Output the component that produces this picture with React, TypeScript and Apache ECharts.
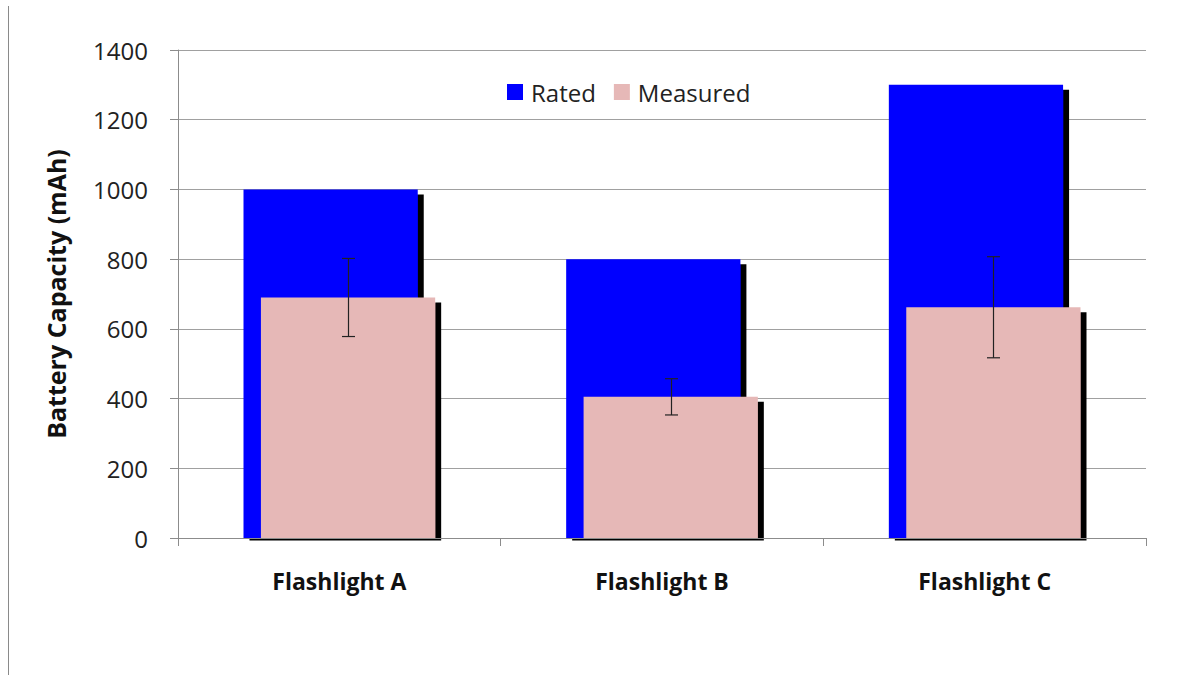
import React, { useEffect, useRef } from "react";
import * as echarts from "echarts";

const categories = ["Flashlight A", "Flashlight B", "Flashlight C"];
const rated = [1000, 800, 1300];
const measured = [690, 405, 662];
const measuredErr = [112, 52, 145];
const yTicks = { min: 0, max: 1400, interval: 200 };

const BAR_PCT = 0.54;
const BAR_GAP = -0.9;

export default function App() {
  const ref = useRef<HTMLDivElement>(null);
  useEffect(() => {
    const chart = echarts.init(ref.current!, undefined, { renderer: "svg" });
    const font = "'Open Sans', Lato, sans-serif";
    chart.setOption({
      animation: false,
      backgroundColor: "#ffffff",
      textStyle: { fontFamily: font },
      graphic: [
        {
          type: "line",
          z: 1,
          shape: { x1: 8.5, y1: 6, x2: 8.5, y2: 675 },
          style: { stroke: "#8a8a8a", lineWidth: 1 },
        },
        {
          type: "rect",
          z: 5,
          shape: { x: 179, y: 540.5, width: 966, height: 8 },
          style: { fill: "#ffffff" },
        },
      ],
      legend: {
        top: 75,
        left: 502,
        itemWidth: 16,
        itemHeight: 16,
        itemGap: 18,
        icon: "rect",
        textStyle: { fontSize: 24, color: "#222", fontFamily: font, padding: [0, 0, 3, 3] },
        data: ["Rated", "Measured"],
      },
      grid: { left: 178, right: 41, top: 50, bottom: 137 },
      xAxis: {
        type: "category",
        data: categories,
        z: 10,
        axisLine: { lineStyle: { color: "#8c8c8c" } },
        axisTick: { show: true, length: 8, lineStyle: { color: "#8c8c8c" } },
        axisLabel: {
          fontSize: 23,
          fontWeight: "bold",
          color: "#111",
          margin: 31,
          fontFamily: font,
        },
      },
      yAxis: {
        type: "value",
        min: yTicks.min,
        max: yTicks.max,
        interval: yTicks.interval,
        name: "Battery Capacity (mAh)",
        nameLocation: "middle",
        nameGap: 110,
        nameRotate: 90,
        nameTextStyle: { fontSize: 25, fontWeight: "bold", color: "#111", fontFamily: font },
        axisLine: { show: true, lineStyle: { color: "#8c8c8c" } },
        axisTick: { show: true, length: 8, lineStyle: { color: "#8c8c8c" } },
        axisLabel: {
          fontSize: 24,
          color: "#222",
          margin: 30,
          fontFamily: font,
          formatter: (v: number) => String(v),
        },
        splitLine: { lineStyle: { color: "#a0a0a0" } },
      },
      series: [
        {
          name: "Rated",
          type: "bar",
          data: rated,
          barWidth: BAR_PCT * 100 + "%",
          barGap: BAR_GAP * 100 + "%",
          itemStyle: {
            color: "#0000ff",
            shadowColor: "#000",
            shadowBlur: 0,
            shadowOffsetX: 6,
            shadowOffsetY: 5,
          },
          z: 2,
        },
        {
          name: "Measured",
          type: "bar",
          data: measured,
          barWidth: BAR_PCT * 100 + "%",
          barGap: BAR_GAP * 100 + "%",
          itemStyle: {
            color: "#e6b8b7",
            shadowColor: "#000",
            shadowBlur: 0,
            shadowOffsetX: 6,
            shadowOffsetY: 5,
          },
          z: 3,
        },
        {
          name: "err",
          type: "custom",
          z: 10,
          data: measured.map((v, i) => [i, v - measuredErr[i], v + measuredErr[i]]),
          renderItem: (params: any, api: any) => {
            const i = api.value(0);
            const lo = api.coord([i, api.value(1)]);
            const hi = api.coord([i, api.value(2)]);
            const band = api.size([1, 0])[0];
            const bw = band * BAR_PCT;
            const offset = (bw * (1 + BAR_GAP)) / 2;
            const x = Math.round(lo[0] + offset) + 0.5;
            const cap = 6.5;
            const style = { stroke: "#222", lineWidth: 1.2 };
            return {
              type: "group",
              children: [
                { type: "line", shape: { x1: x, y1: hi[1], x2: x, y2: lo[1] }, style },
                { type: "line", shape: { x1: x - cap, y1: hi[1], x2: x + cap, y2: hi[1] }, style },
                { type: "line", shape: { x1: x - cap, y1: lo[1], x2: x + cap, y2: lo[1] }, style },
              ],
            };
          },
        },
      ],
    });
    return () => chart.dispose();
  }, []);
  return (
    <div
      ref={ref}
      style={{ position: "absolute", left: 0, top: 0, width: 1187, height: 675 }}
    />
  );
}
